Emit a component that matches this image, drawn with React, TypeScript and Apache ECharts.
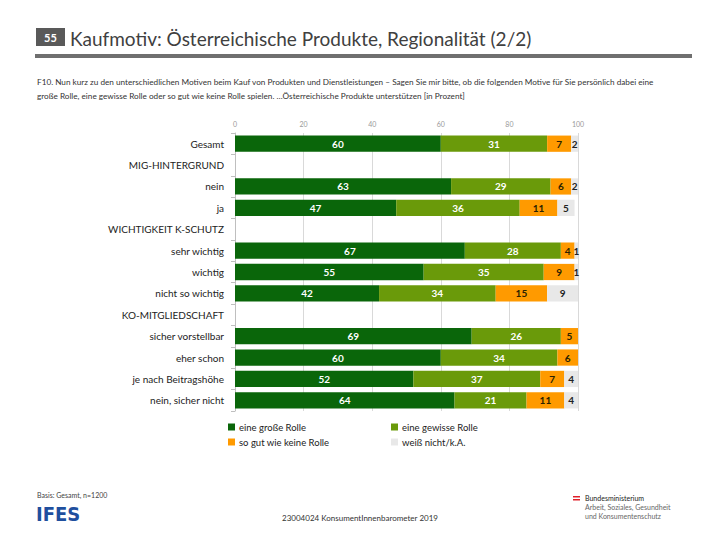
import React, { useEffect, useRef } from "react";
import * as echarts from "echarts";

const categories = [
  "Gesamt",
  "MIG-HINTERGRUND",
  "nein",
  "ja",
  "WICHTIGKEIT K-SCHUTZ",
  "sehr wichtig",
  "wichtig",
  "nicht so wichtig",
  "KO-MITGLIEDSCHAFT",
  "sicher vorstellbar",
  "eher schon",
  "je nach Beitragshöhe",
  "nein, sicher nicht",
];

const seriesNames = ["eine große Rolle", "eine gewisse Rolle", "so gut wie keine Rolle", "weiß nicht/k.A."];

const grosseRolle = [60, null, 63, 47, null, 67, 55, 42, null, 69, 60, 52, 64];
const gewisseRolle = [31, null, 29, 36, null, 28, 35, 34, null, 26, 34, 37, 21];
const keineRolle = [7, null, 6, 11, null, 4, 9, 15, null, 5, 6, 7, 11];
const weissNicht = [2, null, 2, 5, null, 1, 1, 9, null, 0, 0, 4, 4];

const xTicks = [0, 20, 40, 60, 80, 100];

const colors = ["#0a660a", "#6a9a0a", "#ff9a00", "#e8e8e8"];
const labelColors = ["#ffffff", "#ffffff", "#2a2200", "#222222"];

const FONT = "Lato, 'Open Sans', sans-serif";

export default function App() {
  const ref = useRef<HTMLDivElement>(null);
  useEffect(() => {
    if (!ref.current) return;
    const chart = echarts.init(ref.current, undefined, { renderer: "svg" });
    const data = [grosseRolle, gewisseRolle, keineRolle, weissNicht];
    const series = data.map((d, i) => ({
      name: seriesNames[i],
      type: "bar",
      stack: "total",
      barWidth: "76%",
      data: d,
      itemStyle: { color: colors[i] },
      label: {
        show: true,
        position: "inside",
        color: labelColors[i],
        fontFamily: FONT,
        fontWeight: "bold",
        fontSize: 10,
        formatter: (p: any) => (p.value ? String(p.value) : ""),
      },
    }));
    chart.setOption({
      animation: false,
      textStyle: { fontFamily: FONT },
      grid: { left: 235, right: 142, top: 133, height: 278 },
      xAxis: {
        type: "value",
        position: "top",
        min: 0,
        max: 100,
        interval: 20,
        axisLine: { show: false },
        axisTick: { show: false },
        axisLabel: {
          color: "#9a9a9a",
          fontSize: 7,
          margin: 6,
          formatter: (v: number) => (xTicks.includes(v) ? String(v) : ""),
        },
        splitLine: { show: true, lineStyle: { color: "#d9d9d9", width: 1 } },
      },
      yAxis: {
        type: "category",
        inverse: true,
        data: categories,
        axisLine: { show: true, lineStyle: { color: "#bfbfbf" } },
        axisTick: { show: true, length: 4, lineStyle: { color: "#bfbfbf" } },
        axisLabel: { color: "#222222", fontSize: 10, margin: 11, fontFamily: FONT },
      },
      legend: [
        {
          data: [seriesNames[0], seriesNames[2]],
          orient: "vertical",
          left: 223,
          top: 417,
          itemWidth: 7,
          itemHeight: 7,
          itemGap: 5,
          icon: "rect",
          textStyle: { fontSize: 9.5, color: "#222", fontFamily: FONT, padding: [0, 0, 0, -1] },
        },
        {
          data: [seriesNames[1], seriesNames[3]],
          orient: "vertical",
          left: 386,
          top: 417,
          itemWidth: 7,
          itemHeight: 7,
          itemGap: 5,
          icon: "rect",
          textStyle: { fontSize: 9.5, color: "#222", fontFamily: FONT, padding: [0, 0, 0, -1] },
        },
      ],
      graphic: [
        { type: "rect", shape: { x: 36, y: 28, width: 29, height: 18 }, style: { fill: "#595959" } },
        {
          type: "text",
          style: { x: 50.5, y: 37, text: "55", fill: "#fff", font: "bold 11px " + FONT, align: "center", verticalAlign: "middle" },
        },
        {
          type: "text",
          style: {
            x: 70,
            y: 38,
            text: "Kaufmotiv: Österreichische Produkte, Regionalität (2/2)",
            fill: "#404040",
            font: "19px " + FONT,
            verticalAlign: "middle",
          },
        },
        { type: "rect", shape: { x: 35, y: 54, width: 657, height: 4 }, style: { fill: "#6f6f6f" } },
        {
          type: "text",
          style: {
            x: 37,
            y: 82,
            text: "F10. Nun kurz zu den unterschiedlichen Motiven beim Kauf von Produkten und Dienstleistungen – Sagen Sie mir bitte, ob die folgenden Motive für Sie persönlich dabei eine",
            fill: "#333",
            font: "8.2px " + FONT,
            verticalAlign: "middle",
          },
        },
        {
          type: "text",
          style: {
            x: 37,
            y: 96,
            text: "große Rolle, eine gewisse Rolle oder so gut wie keine Rolle spielen. …Österreichische Produkte unterstützen [in Prozent]",
            fill: "#333",
            font: "8.2px " + FONT,
            verticalAlign: "middle",
          },
        },
        {
          type: "text",
          style: { x: 37, y: 495, text: "Basis: Gesamt, n=1200", fill: "#444", font: "7px " + FONT, verticalAlign: "middle" },
        },
        {
          type: "text",
          style: { x: 36, y: 514, text: "IFES", fill: "#1f4f9e", font: "bold 20px 'Liberation Sans Narrow', 'DejaVu Sans Condensed', sans-serif", verticalAlign: "middle" },
        },
        {
          type: "text",
          style: {
            x: 360,
            y: 518,
            text: "23004024 KonsumentInnenbarometer 2019",
            fill: "#333",
            font: "8px " + FONT,
            align: "center",
            verticalAlign: "middle",
          },
        },
        { type: "rect", shape: { x: 573, y: 496, width: 7, height: 1.5 }, style: { fill: "#e0202a" } },
        { type: "rect", shape: { x: 573, y: 499, width: 7, height: 1.5 }, style: { fill: "#e0202a" } },
        {
          type: "text",
          style: { x: 585, y: 498, text: "Bundesministerium", fill: "#222", font: "7px " + FONT, verticalAlign: "middle" },
        },
        {
          type: "text",
          style: { x: 585, y: 507, text: "Arbeit, Soziales, Gesundheit", fill: "#666", font: "7px " + FONT, verticalAlign: "middle" },
        },
        {
          type: "text",
          style: { x: 585, y: 516, text: "und Konsumentenschutz", fill: "#666", font: "7px " + FONT, verticalAlign: "middle" },
        },
      ],
      series,
    });
    return () => chart.dispose();
  }, []);
  return <div ref={ref} style={{ position: "fixed", left: 0, top: 0, width: 720, height: 540, background: "#fff" }} />;
}
